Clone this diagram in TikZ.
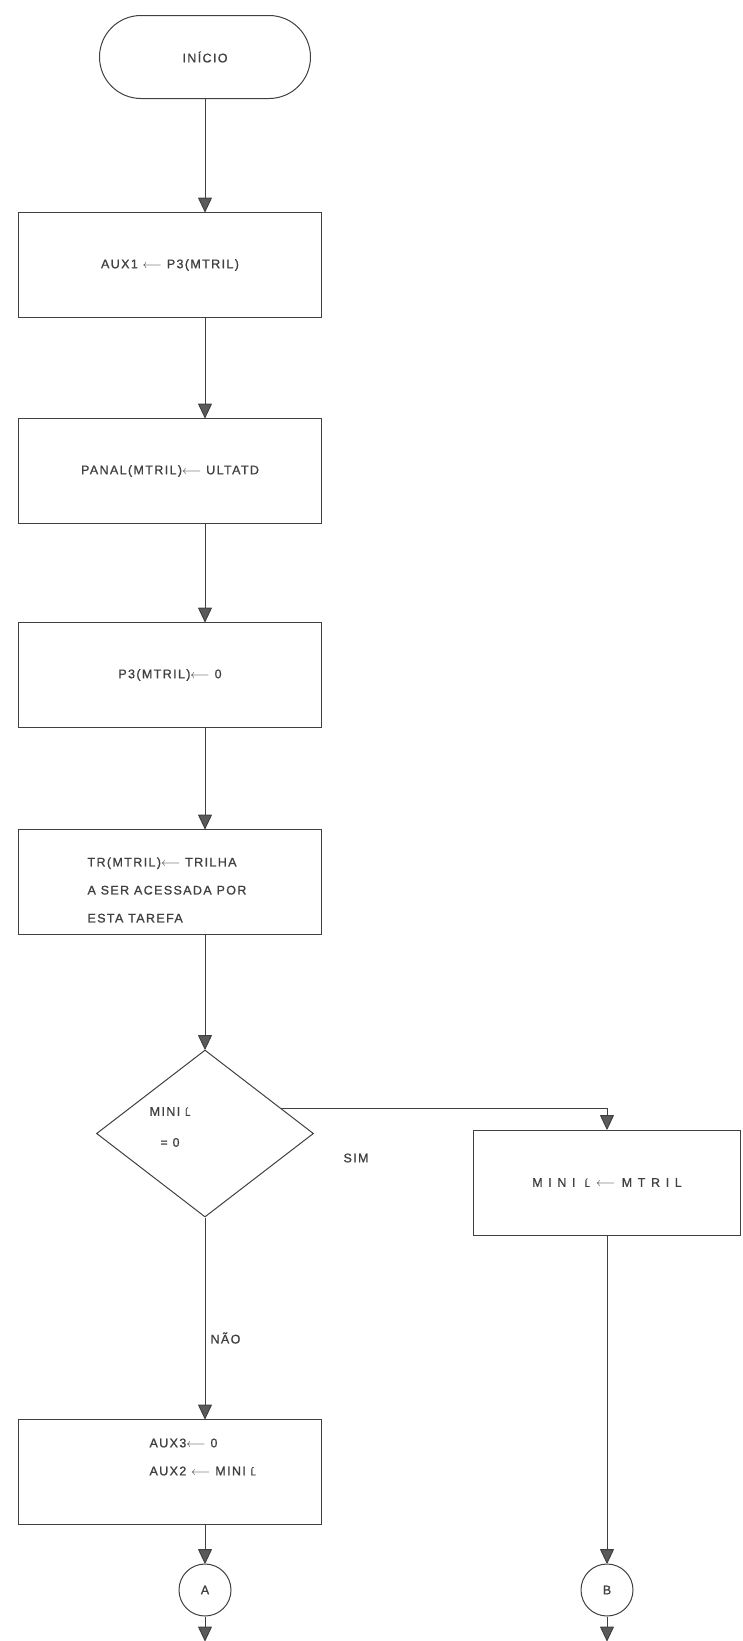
\documentclass[tikz,border=0pt]{standalone}
\usepackage{fontspec}
\setmainfont{Liberation Sans}[LetterSpace=11,FakeBold=1]
\newfontfamily\widefont{Liberation Sans}[LetterSpace=45,FakeBold=1]
\usetikzlibrary{arrows.meta,shapes.geometric,shapes.misc,calc}

\definecolor{ink}{HTML}{404040}
\definecolor{tipfill}{HTML}{5A5A5A}

% assignment arrow and the small L used in MINI L
\newcommand{\getsarrow}{\ensuremath{\longleftarrow}}
\newcommand{\smallL}{{\fontsize{9.5}{9.5}\selectfont Ĺ}}

\begin{document}
\begin{tikzpicture}[x=1pt,y=-1pt,
  every node/.style={font=\fontsize{12.5}{28}\selectfont, text=ink},
  flow/.style={draw=ink, line width=0.95pt,
    -{Triangle[round,width=14pt,length=15pt,fill=tipfill]}},
  stepbox/.style={draw=ink, line width=1pt, rectangle, minimum width=303pt,
    minimum height=105pt, inner sep=0pt, align=center},
  terminal/.style={rounded rectangle, draw=ink, line width=1pt,
    minimum width=211pt, minimum height=83pt, inner sep=0pt},
  decision/.style={diamond, draw=ink, line width=1pt, minimum width=217pt,
    minimum height=167pt, inner sep=0pt},
  conn/.style={circle, draw=ink, line width=1pt, minimum size=52pt, inner sep=0pt},
  boxtext/.style={anchor=west, align=left}]

\useasboundingbox (0,0) rectangle (742,1641);
\coordinate (axis) at (205,0);

% main column
\node[terminal] (ini) at (205,57) {INÍCIO};
\node[stepbox] (b1) at (170,265) {AUX1 \getsarrow\ P3(MTRIL)};
\node[stepbox] (b2) at (170,471) {PANAL(MTRIL)\getsarrow\ ULTATD};
\node[stepbox] (b3) at (170,675) {P3(MTRIL)\getsarrow\ 0};
\node[stepbox] (b4) at (170,882) {};
\node[boxtext] (t4) at (84,890) {TR(MTRIL)\getsarrow\ TRILHA\\A SER ACESSADA POR\\ESTA TAREFA};

\node[decision] (dec) at (205,1133.5) {};
\node[align=center, font=\fontsize{12.5}{31}\selectfont] (dtxt) at (170,1127) {MINI \smallL\\= 0};

\node (sim) at (356,1158) {SIM};
\node[anchor=west] (nao) at (207,1338) {NÃO};

\node[stepbox] (b5) at (170,1472) {};
\node[boxtext] (t5) at (146,1457) {AUX3\getsarrow\ 0\\AUX2 \getsarrow\ MINI \smallL};

% right branch
\node[stepbox, minimum width=267pt, font=\widefont\fontsize{12.5}{28}\selectfont] (mini) at (607,1182.5)
  {MINI \smallL\enspace\getsarrow\enspace MTRIL};

% off-page connectors
\node[conn] (cA) at (205,1590) {A};
\node[conn] (cB) at (607,1590) {B};
\coordinate (endA) at (205,1641);
\coordinate (endB) at (607,1641);

% connectors
\draw[flow] (ini.south) -- (axis |- b1.north);
\draw[flow] (axis |- b1.south) -- (axis |- b2.north);
\draw[flow] (axis |- b2.south) -- (axis |- b3.north);
\draw[flow] (axis |- b3.south) -- (axis |- b4.north);
\draw[flow] (axis |- b4.south) -- (dec.north);
\draw[flow] (dec.south) -- (axis |- b5.north);
\draw[flow] (axis |- b5.south) -- (cA.north);
\draw[flow] (cA.south) -- (endA);
\draw[flow] ($(dec.north)!0.7!(dec.east)$) -| (mini.north);
\draw[flow] (mini.south) -- (cB.north);
\draw[flow] (cB.south) -- (endB);
\end{tikzpicture}
\end{document}
